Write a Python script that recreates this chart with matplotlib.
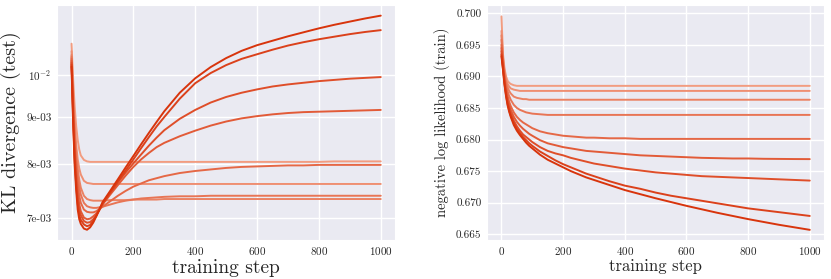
import numpy as np
import matplotlib
matplotlib.use("Agg")
import matplotlib.pyplot as plt
import seaborn as sns
from matplotlib.ticker import FormatStrFormatter, FixedLocator
from matplotlib.colors import to_rgb

steps = [0, 5, 10, 15, 20, 25, 30, 40, 50, 60, 70, 80, 90, 100,
         125, 150, 175, 200, 225, 250, 275, 300,
         350, 400, 450, 500, 550, 600, 650, 700, 750, 800, 850, 900, 950, 1000]

# KL divergence (test), in units of 1e-3; lightest (c0) -> darkest (c8)
kl_c0 = [10.8, 9.9, 9.25, 8.8, 8.5, 8.30, 8.18, 8.09, 8.06, 8.05, 8.05, 8.05, 8.05, 8.05,
         8.05, 8.05, 8.05, 8.05, 8.05, 8.05, 8.05, 8.05,
         8.05, 8.05, 8.05, 8.05, 8.05, 8.05, 8.05, 8.05, 8.05, 8.05, 8.06, 8.06, 8.06, 8.06]
kl_c1 = [10.6, 9.6, 8.85, 8.4, 8.1, 7.92, 7.80, 7.68, 7.64, 7.63, 7.62, 7.62, 7.62, 7.62,
         7.62, 7.62, 7.62, 7.62, 7.62, 7.62, 7.62, 7.62,
         7.62, 7.62, 7.62, 7.62, 7.62, 7.62, 7.62, 7.62, 7.62, 7.62, 7.62, 7.62, 7.62, 7.62]
kl_c2 = [10.5, 9.5, 8.75, 8.25, 7.92, 7.70, 7.55, 7.40, 7.34, 7.32, 7.31, 7.31, 7.31, 7.31,
         7.32, 7.32, 7.32, 7.33, 7.33, 7.33, 7.33, 7.34,
         7.34, 7.34, 7.34, 7.34, 7.34, 7.34, 7.34, 7.34, 7.34, 7.34, 7.34, 7.34, 7.34, 7.34]
kl_c3 = [10.45, 9.4, 8.6, 8.1, 7.78, 7.56, 7.42, 7.27, 7.21, 7.19, 7.18, 7.18, 7.19, 7.20,
         7.24, 7.28, 7.31, 7.33, 7.35, 7.36, 7.37, 7.38,
         7.39, 7.39, 7.40, 7.40, 7.40, 7.40, 7.40, 7.40, 7.40, 7.40, 7.40, 7.40, 7.40, 7.40]
kl_c4 = [10.4, 9.3, 8.45, 7.95, 7.62, 7.40, 7.27, 7.15, 7.11, 7.10, 7.10, 7.12, 7.16, 7.20,
         7.30, 7.40, 7.49, 7.57, 7.63, 7.69, 7.73, 7.77,
         7.83, 7.87, 7.90, 7.93, 7.95, 7.96, 7.97, 7.98, 7.98, 7.99, 7.99, 7.99, 7.99, 7.99]
kl_c5 = [10.35, 9.2, 8.3, 7.8, 7.45, 7.25, 7.12, 7.01, 6.98, 6.99, 7.03, 7.08, 7.15, 7.24,
         7.42, 7.60, 7.78, 7.95, 8.10, 8.23, 8.35, 8.44,
         8.58, 8.70, 8.81, 8.90, 8.97, 9.02, 9.06, 9.09, 9.11, 9.12, 9.13, 9.14, 9.15, 9.16]
kl_c6 = [10.3, 9.1, 8.2, 7.7, 7.35, 7.15, 7.05, 6.95, 6.92, 6.93, 6.98, 7.05, 7.14, 7.24,
         7.45, 7.65, 7.84, 8.02, 8.20, 8.38, 8.55, 8.71,
         8.96, 9.16, 9.33, 9.46, 9.56, 9.64, 9.71, 9.76, 9.80, 9.84, 9.87, 9.90, 9.92, 9.94]
kl_c7 = [10.25, 9.0, 8.1, 7.6, 7.25, 7.05, 6.97, 6.89, 6.86, 6.88, 6.95, 7.04, 7.15, 7.26,
         7.46, 7.67, 7.88, 8.10, 8.33, 8.56, 8.79, 9.00,
         9.42, 9.79, 10.04, 10.24, 10.40, 10.52, 10.64, 10.75, 10.84, 10.92, 10.99, 11.06, 11.12, 11.17]
kl_c8 = [10.2, 8.9, 8.0, 7.5, 7.15, 6.98, 6.90, 6.82, 6.80, 6.84, 6.92, 7.03, 7.15, 7.28,
         7.49, 7.71, 7.94, 8.17, 8.41, 8.65, 8.89, 9.13,
         9.56, 9.91, 10.19, 10.42, 10.61, 10.76, 10.88, 11.00, 11.11, 11.22, 11.32, 11.41, 11.50, 11.58]

# negative log likelihood (train)
nll_c0 = [0.6995, 0.6935, 0.6912, 0.6900, 0.6893, 0.6890, 0.6888, 0.6886, 0.6885, 0.6885, 0.6885, 0.6885, 0.6885, 0.6885,
          0.6885, 0.6885, 0.6885, 0.6885, 0.6885, 0.6885, 0.6885, 0.6885,
          0.6885, 0.6885, 0.6885, 0.6885, 0.6885, 0.6885, 0.6885, 0.6885, 0.6885, 0.6885, 0.6885, 0.6885, 0.6885, 0.6885]
nll_c1 = [0.6972, 0.6930, 0.6908, 0.6895, 0.6888, 0.6884, 0.6881, 0.6879, 0.6878, 0.6877, 0.6877, 0.6877, 0.6877, 0.6877,
          0.6877, 0.6877, 0.6877, 0.6877, 0.6877, 0.6877, 0.6877, 0.6877,
          0.6877, 0.6877, 0.6877, 0.6877, 0.6877, 0.6877, 0.6877, 0.6877, 0.6877, 0.6877, 0.6877, 0.6877, 0.6877, 0.6877]
nll_c2 = [0.6965, 0.6927, 0.6905, 0.6891, 0.6883, 0.6877, 0.6873, 0.6868, 0.6866, 0.6865, 0.6864, 0.6864, 0.6863, 0.6863,
          0.6863, 0.6863, 0.6863, 0.6863, 0.6863, 0.6863, 0.6863, 0.6863,
          0.6863, 0.6863, 0.6863, 0.6863, 0.6863, 0.6863, 0.6863, 0.6863, 0.6863, 0.6863, 0.6863, 0.6863, 0.6863, 0.6863]
nll_c3 = [0.6958, 0.6924, 0.6901, 0.6886, 0.6876, 0.6869, 0.6863, 0.6855, 0.6850, 0.6847, 0.6845, 0.6843, 0.6842, 0.6841,
          0.6840, 0.6839, 0.6839, 0.6839, 0.6839, 0.6839, 0.6839, 0.6839,
          0.6839, 0.6839, 0.6839, 0.6839, 0.6839, 0.6839, 0.6839, 0.6839, 0.6839, 0.6839, 0.6839, 0.6839, 0.6839, 0.6839]
nll_c4 = [0.6950, 0.6921, 0.6897, 0.6881, 0.6869, 0.6860, 0.6853, 0.6843, 0.6836, 0.6831, 0.6827, 0.6824, 0.6821, 0.6818,
          0.6813, 0.6810, 0.6808, 0.6806, 0.6805, 0.6804, 0.6803, 0.6803,
          0.6802, 0.6802, 0.6801, 0.6801, 0.6801, 0.6801, 0.6801, 0.6801, 0.6801, 0.6801, 0.6801, 0.6801, 0.6801, 0.6801]
nll_c5 = [0.6945, 0.6918, 0.6894, 0.6877, 0.6864, 0.6854, 0.6847, 0.6836, 0.6828, 0.6822, 0.6817, 0.6813, 0.6809, 0.6806,
          0.6799, 0.6794, 0.6791, 0.6788, 0.6786, 0.6784, 0.6782, 0.6781,
          0.6779, 0.6777, 0.6775, 0.6774, 0.6773, 0.6772, 0.6771, 0.67705, 0.6770, 0.6770, 0.67695, 0.67693, 0.67691, 0.6769]
nll_c6 = [0.6940, 0.6915, 0.6891, 0.6873, 0.6860, 0.6850, 0.6842, 0.6830, 0.6821, 0.6814, 0.6808, 0.6804, 0.6800, 0.6796,
          0.6788, 0.6782, 0.6778, 0.6775, 0.6771, 0.6768, 0.6765, 0.6762,
          0.6758, 0.6754, 0.6751, 0.6748, 0.6746, 0.6744, 0.6742, 0.6741, 0.6740, 0.6739, 0.6738, 0.6737, 0.6736, 0.6735]
nll_c7 = [0.6935, 0.6912, 0.6888, 0.6870, 0.6856, 0.6846, 0.6838, 0.6826, 0.6817, 0.6810, 0.6804, 0.6799, 0.6794, 0.6790,
          0.6781, 0.6774, 0.6767, 0.6761, 0.6756, 0.6751, 0.6746, 0.6742,
          0.6734, 0.6727, 0.6722, 0.6716, 0.6711, 0.6707, 0.6703, 0.6699, 0.6695, 0.6691, 0.6688, 0.6685, 0.6682, 0.6679]
nll_c8 = [0.6932, 0.6910, 0.6886, 0.6868, 0.6854, 0.6844, 0.6836, 0.6823, 0.6814, 0.6807, 0.6801, 0.6795, 0.6790, 0.6786,
          0.6776, 0.6768, 0.6762, 0.6756, 0.6750, 0.6745, 0.6740, 0.6736,
          0.6728, 0.6720, 0.67135, 0.6707, 0.6701, 0.6695, 0.66895, 0.6684, 0.6679, 0.6674, 0.66695, 0.6665, 0.6661, 0.6657]

kl_series = [kl_c0, kl_c1, kl_c2, kl_c3, kl_c4, kl_c5, kl_c6, kl_c7, kl_c8]
nll_series = [nll_c0, nll_c1, nll_c2, nll_c3, nll_c4, nll_c5, nll_c6, nll_c7, nll_c8]

sns.set_style("darkgrid")
plt.rcParams["font.family"] = ["cmr10", "DejaVu Serif"]
plt.rcParams["mathtext.fontset"] = "cm"
plt.rcParams["axes.formatter.use_mathtext"] = True

light = np.array(to_rgb("#f29c80"))
dark = np.array(to_rgb("#d8340c"))
n = len(kl_series)
colors = [tuple(light + (dark - light) * i / (n - 1)) for i in range(n)]

fig = plt.figure(figsize=(8.31, 2.79), dpi=100)
ax1 = fig.add_axes([0.0686, 0.140, 0.4067, 0.842])
ax2 = fig.add_axes([0.586, 0.140, 0.4055, 0.842])

for i, s in enumerate(kl_series):
    ax1.plot(steps, np.array(s) * 1e-3, color=colors[i], lw=1.4)
for i, s in enumerate(nll_series):
    ax2.plot(steps, s, color=colors[i], lw=1.4)

ax1.set_yscale("log")
ax1.set_ylim(0.00663, 0.01189)
ax1.yaxis.set_major_locator(FixedLocator([0.01]))
ax1.yaxis.set_minor_locator(FixedLocator([0.007, 0.008, 0.009]))
ax1.yaxis.set_minor_formatter(FormatStrFormatter("%.0e"))
ax1.grid(True, which="both", color="white", lw=1.0)
ax1.set_xlim(-47, 1046)
ax1.set_xticks([0, 200, 400, 600, 800, 1000])
ax1.tick_params(axis="both", which="both", labelsize=8, length=0, pad=4)
ax1.set_xlabel("training step", fontsize=14, labelpad=1)
ax1.set_ylabel("KL divergence (test)", fontsize=14.5, labelpad=4)

ax2.set_ylim(0.6641, 0.7013)
ax2.set_xlim(-47, 1046)
ax2.set_xticks([0, 200, 400, 600, 800, 1000])
ax2.set_yticks([0.665, 0.670, 0.675, 0.680, 0.685, 0.690, 0.695, 0.700])
ax2.yaxis.set_major_formatter(FormatStrFormatter("%.3f"))
ax2.grid(True, color="white", lw=1.0)
ax2.tick_params(axis="both", labelsize=8, length=0, pad=4)
ax2.set_xlabel("training step", fontsize=12, labelpad=1)
ax2.set_ylabel("negative log likelihood (train)", fontsize=10.5, labelpad=4)

fig.savefig("out.png", dpi=100)
